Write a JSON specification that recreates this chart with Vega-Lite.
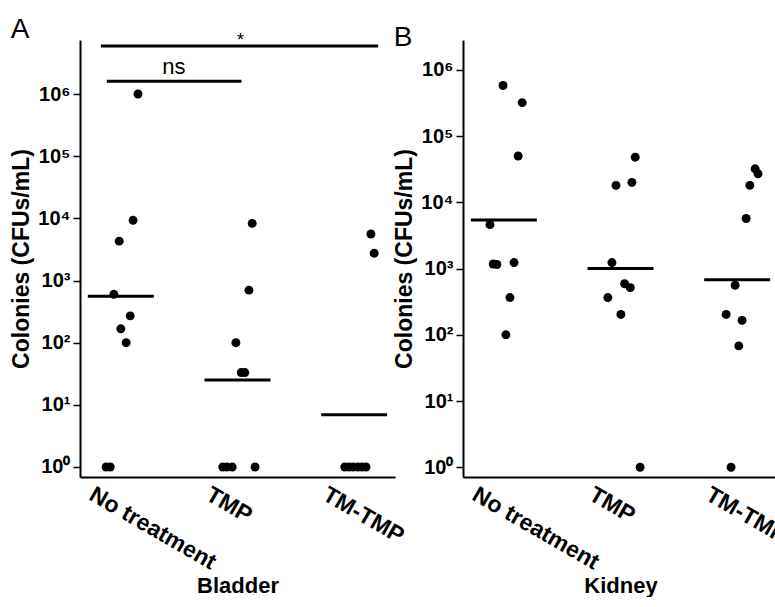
{
  "$schema": "https://vega.github.io/schema/vega-lite/v6.json",
  "padding": {"left": 10, "top": 16, "right": 0, "bottom": 0},
  "bounds": "flush",
  "spacing": 68,
  "datasets": {
    "points": [
      {"organ": "Bladder", "group": "No treatment", "value": 1000000, "jitter": 0.42},
      {"organ": "Bladder", "group": "No treatment", "value": 9300, "jitter": 0.30},
      {"organ": "Bladder", "group": "No treatment", "value": 4300, "jitter": -0.04},
      {"organ": "Bladder", "group": "No treatment", "value": 600, "jitter": -0.17},
      {"organ": "Bladder", "group": "No treatment", "value": 270, "jitter": 0.23},
      {"organ": "Bladder", "group": "No treatment", "value": 167, "jitter": 0.0},
      {"organ": "Bladder", "group": "No treatment", "value": 100, "jitter": 0.13},
      {"organ": "Bladder", "group": "No treatment", "value": 1, "jitter": -0.36},
      {"organ": "Bladder", "group": "No treatment", "value": 1, "jitter": -0.26},
      {"organ": "Bladder", "group": "TMP", "value": 8300, "jitter": 0.36},
      {"organ": "Bladder", "group": "TMP", "value": 700, "jitter": 0.28},
      {"organ": "Bladder", "group": "TMP", "value": 100, "jitter": -0.04},
      {"organ": "Bladder", "group": "TMP", "value": 33, "jitter": 0.09},
      {"organ": "Bladder", "group": "TMP", "value": 33, "jitter": 0.18},
      {"organ": "Bladder", "group": "TMP", "value": 1, "jitter": -0.36},
      {"organ": "Bladder", "group": "TMP", "value": 1, "jitter": -0.26},
      {"organ": "Bladder", "group": "TMP", "value": 1, "jitter": -0.13},
      {"organ": "Bladder", "group": "TMP", "value": 1, "jitter": 0.43},
      {"organ": "Bladder", "group": "TM-TMP", "value": 5600, "jitter": 0.41},
      {"organ": "Bladder", "group": "TM-TMP", "value": 2750, "jitter": 0.49},
      {"organ": "Bladder", "group": "TM-TMP", "value": 1, "jitter": -0.23},
      {"organ": "Bladder", "group": "TM-TMP", "value": 1, "jitter": -0.13},
      {"organ": "Bladder", "group": "TM-TMP", "value": 1, "jitter": -0.03},
      {"organ": "Bladder", "group": "TM-TMP", "value": 1, "jitter": 0.09},
      {"organ": "Bladder", "group": "TM-TMP", "value": 1, "jitter": 0.19},
      {"organ": "Bladder", "group": "TM-TMP", "value": 1, "jitter": 0.29},
      {"organ": "Kidney", "group": "No treatment", "value": 580000, "jitter": -0.02},
      {"organ": "Kidney", "group": "No treatment", "value": 320000, "jitter": 0.45},
      {"organ": "Kidney", "group": "No treatment", "value": 50000, "jitter": 0.35},
      {"organ": "Kidney", "group": "No treatment", "value": 4600, "jitter": -0.34},
      {"organ": "Kidney", "group": "No treatment", "value": 1170, "jitter": -0.26},
      {"organ": "Kidney", "group": "No treatment", "value": 1150, "jitter": -0.17},
      {"organ": "Kidney", "group": "No treatment", "value": 1230, "jitter": 0.25},
      {"organ": "Kidney", "group": "No treatment", "value": 365, "jitter": 0.15},
      {"organ": "Kidney", "group": "No treatment", "value": 100, "jitter": 0.05},
      {"organ": "Kidney", "group": "TMP", "value": 48000, "jitter": 0.36},
      {"organ": "Kidney", "group": "TMP", "value": 18000, "jitter": -0.11},
      {"organ": "Kidney", "group": "TMP", "value": 20000, "jitter": 0.28},
      {"organ": "Kidney", "group": "TMP", "value": 1230, "jitter": -0.21},
      {"organ": "Kidney", "group": "TMP", "value": 365, "jitter": -0.31},
      {"organ": "Kidney", "group": "TMP", "value": 590, "jitter": 0.10},
      {"organ": "Kidney", "group": "TMP", "value": 515, "jitter": 0.24},
      {"organ": "Kidney", "group": "TMP", "value": 203, "jitter": 0.01},
      {"organ": "Kidney", "group": "TMP", "value": 1, "jitter": 0.48},
      {"organ": "Kidney", "group": "TM-TMP", "value": 32000, "jitter": 0.44},
      {"organ": "Kidney", "group": "TM-TMP", "value": 27000, "jitter": 0.51},
      {"organ": "Kidney", "group": "TM-TMP", "value": 18000, "jitter": 0.31},
      {"organ": "Kidney", "group": "TM-TMP", "value": 5700, "jitter": 0.22},
      {"organ": "Kidney", "group": "TM-TMP", "value": 560, "jitter": -0.05},
      {"organ": "Kidney", "group": "TM-TMP", "value": 203, "jitter": -0.27},
      {"organ": "Kidney", "group": "TM-TMP", "value": 165, "jitter": 0.12},
      {"organ": "Kidney", "group": "TM-TMP", "value": 68, "jitter": 0.04},
      {"organ": "Kidney", "group": "TM-TMP", "value": 1, "jitter": -0.15}
    ],
    "medians": [
      {"organ": "Bladder", "group": "No treatment", "value": 560},
      {"organ": "Bladder", "group": "TMP", "value": 25},
      {"organ": "Bladder", "group": "TM-TMP", "value": 6.9},
      {"organ": "Kidney", "group": "No treatment", "value": 5400},
      {"organ": "Kidney", "group": "TMP", "value": 1000},
      {"organ": "Kidney", "group": "TM-TMP", "value": 680}
    ],
    "signif": [
      {"id": "all", "from": "No treatment", "to": "TM-TMP", "mid": "TMP", "value": 5900000, "label": "*"},
      {"id": "pair", "from": "No treatment", "to": "TMP", "mid": "No treatment", "value": 1600000, "label": "ns"}
    ]
  },
  "config": {
    "view": {"stroke": null},
    "font": "Liberation Sans",
    "axis": {
      "grid": false,
      "domainColor": "black",
      "domainWidth": 2,
      "tickColor": "black",
      "tickWidth": 1.5,
      "labelColor": "black",
      "titleColor": "black",
      "labelFont": "Liberation Sans",
      "titleFont": "Liberation Sans",
      "labelFontWeight": "bold",
      "titleFontWeight": "bold"
    },
    "axisX": {
      "ticks": false,
      "labelAngle": 30,
      "labelAlign": "left",
      "labelBaseline": "top",
      "labelFontSize": 23,
      "labelOffset": -24,
      "labelPadding": 6,
      "titleFontSize": 22,
      "titlePadding": 2,
      "labelLimit": 300
    },
    "axisY": {
      "tickSize": 7,
      "labelFontSize": 20,
      "labelPadding": 3,
      "titleFontSize": 23,
      "titlePadding": 4
    },
    "title": {"fontSize": 28, "fontWeight": "normal", "anchor": "start", "frame": "bounds", "offset": -12, "color": "black", "font": "Liberation Sans"}
  },
  "resolve": {"scale": {"y": "independent"}},
  "hconcat": [
    {
      "title": "A",
      "width": 315,
      "height": 437,
      "layer": [
        {
          "data": {"name": "points"},
          "transform": [{"filter": "datum.organ === 'Bladder'"}],
          "mark": {"type": "circle", "size": 80, "color": "black", "opacity": 1},
          "encoding": {
            "x": {"field": "group", "type": "nominal", "title": "Bladder", "scale": {"type": "band", "domain": ["No treatment", "TMP", "TM-TMP"], "paddingInner": 0.3, "paddingOuter": 0}},
            "xOffset": {"field": "jitter", "type": "quantitative", "scale": {"domain": [-1, 1]}},
            "y": {"field": "value", "type": "quantitative", "title": "Colonies (CFUs/mL)", "scale": {"type": "log", "domain": [0.69, 7400000], "nice": false}, "axis": {"values": [1, 10, 100, 1000, 10000, 100000, 1000000], "labelExpr": "'10' + ['⁰','¹','²','³','⁴','⁵','⁶'][round(log(datum.value)/LN10)]"}}
          }
        },
        {
          "data": {"name": "medians"},
          "transform": [{"filter": "datum.organ === 'Bladder'"}],
          "mark": {"type": "tick", "size": 66, "thickness": 3, "color": "black", "opacity": 1},
          "encoding": {
            "x": {"field": "group", "type": "nominal", "title": "Bladder"},
            "y": {"field": "value", "type": "quantitative", "title": "Colonies (CFUs/mL)"}
          }
        },
        {
          "data": {"name": "signif"},
          "transform": [{"filter": "datum.id === 'all'"}],
          "mark": {"type": "rule", "strokeWidth": 3, "color": "black", "xOffset": -20, "x2Offset": 24},
          "encoding": {
            "x": {"field": "from", "type": "nominal", "title": "Bladder"},
            "x2": {"field": "to"},
            "y": {"field": "value", "type": "quantitative", "title": "Colonies (CFUs/mL)"}
          }
        },
        {
          "data": {"name": "signif"},
          "transform": [{"filter": "datum.id === 'pair'"}],
          "mark": {"type": "rule", "strokeWidth": 3, "color": "black", "xOffset": -14, "x2Offset": 4},
          "encoding": {
            "x": {"field": "from", "type": "nominal", "title": "Bladder"},
            "x2": {"field": "to"},
            "y": {"field": "value", "type": "quantitative", "title": "Colonies (CFUs/mL)"}
          }
        },
        {
          "data": {"name": "signif"},
          "transform": [{"filter": "datum.id === 'all'"}],
          "mark": {"type": "text", "fontSize": 18, "baseline": "alphabetic", "dy": 0, "dx": 3, "color": "black"},
          "encoding": {
            "x": {"field": "mid", "type": "nominal", "title": "Bladder"},
            "y": {"field": "value", "type": "quantitative", "title": "Colonies (CFUs/mL)"},
            "text": {"field": "label"}
          }
        },
        {
          "data": {"name": "signif"},
          "transform": [{"filter": "datum.id === 'pair'"}],
          "mark": {"type": "text", "fontSize": 22, "baseline": "alphabetic", "dy": -7, "dx": 53, "color": "black"},
          "encoding": {
            "x": {"field": "mid", "type": "nominal", "title": "Bladder"},
            "y": {"field": "value", "type": "quantitative", "title": "Colonies (CFUs/mL)"},
            "text": {"field": "label"}
          }
        }
      ]
    },
    {
      "title": "B",
      "width": 315,
      "height": 437,
      "layer": [
        {
          "data": {"name": "points"},
          "transform": [{"filter": "datum.organ === 'Kidney'"}],
          "mark": {"type": "circle", "size": 80, "color": "black", "opacity": 1},
          "encoding": {
            "x": {"field": "group", "type": "nominal", "title": "Kidney", "scale": {"type": "band", "domain": ["No treatment", "TMP", "TM-TMP"], "paddingInner": 0.3, "paddingOuter": 0}},
            "xOffset": {"field": "jitter", "type": "quantitative", "scale": {"domain": [-1, 1]}},
            "y": {"field": "value", "type": "quantitative", "title": "Colonies (CFUs/mL)", "scale": {"type": "log", "domain": [0.713, 2820000], "nice": false}, "axis": {"values": [1, 10, 100, 1000, 10000, 100000, 1000000], "labelExpr": "'10' + ['⁰','¹','²','³','⁴','⁵','⁶'][round(log(datum.value)/LN10)]"}}
          }
        },
        {
          "data": {"name": "medians"},
          "transform": [{"filter": "datum.organ === 'Kidney'"}],
          "mark": {"type": "tick", "size": 66, "thickness": 3, "color": "black", "opacity": 1},
          "encoding": {
            "x": {"field": "group", "type": "nominal", "title": "Kidney"},
            "y": {"field": "value", "type": "quantitative", "title": "Colonies (CFUs/mL)"}
          }
        }
      ]
    }
  ]
}
